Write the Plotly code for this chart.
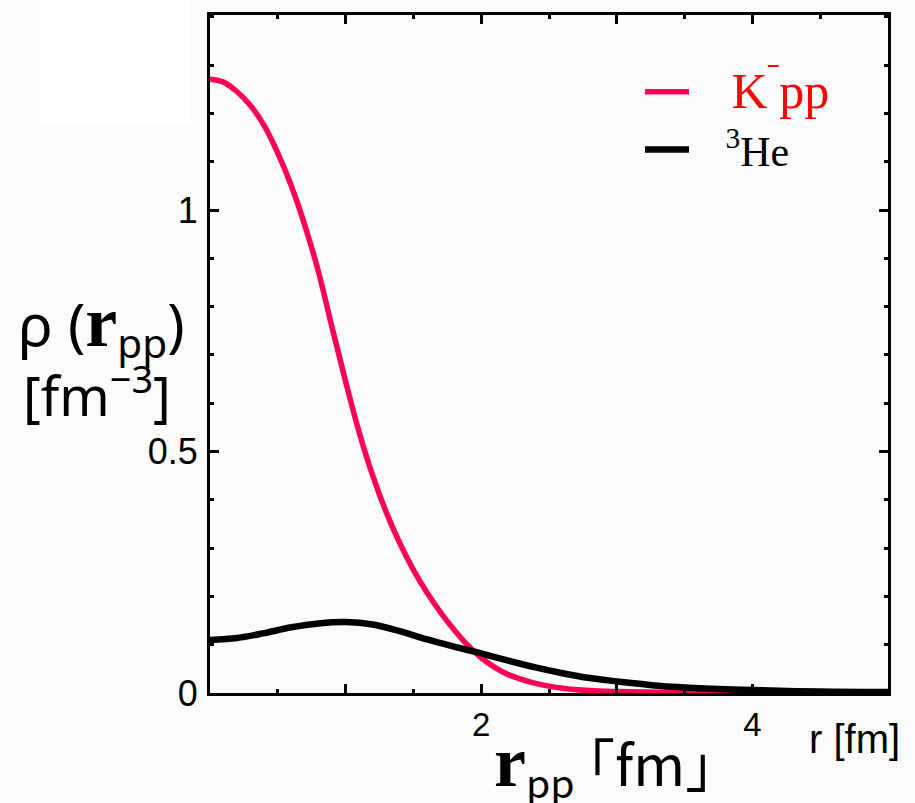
import plotly.graph_objects as go

# ---- data ----
r_kpp = [0.0, 0.1, 0.2, 0.3, 0.4, 0.5, 0.6, 0.7, 0.8, 0.9, 1.0, 1.1, 1.2, 1.3, 1.4,
         1.5, 1.6, 1.7, 1.8, 1.9, 2.0, 2.1, 2.2, 2.4, 2.6, 2.8, 3.0, 3.4, 4.0, 5.0]
rho_kpp = [1.271, 1.265, 1.245, 1.216, 1.175, 1.118, 1.050, 0.968, 0.872, 0.757,
           0.645, 0.540, 0.450, 0.374, 0.310, 0.255, 0.208, 0.167, 0.131, 0.099,
           0.073, 0.053, 0.038, 0.020, 0.010, 0.005, 0.003, 0.001, 0.0, 0.0]

r_he = [0.0, 0.2, 0.4, 0.6, 0.8, 1.0, 1.2, 1.4, 1.6, 1.8, 2.0, 2.2, 2.4, 2.6, 2.8,
        3.0, 3.2, 3.4, 3.7, 4.0, 4.5, 5.0]
rho_he = [0.110, 0.114, 0.124, 0.136, 0.144, 0.147, 0.142, 0.128, 0.111, 0.096,
          0.082, 0.067, 0.053, 0.041, 0.031, 0.024, 0.018, 0.013, 0.009, 0.006,
          0.003, 0.002]

x_tickvals = [0, 1, 2, 3, 4, 5]
x_ticktext = ["", "", "2", "", "4", ""]
y_tickvals = [0, 0.5, 1]
y_ticktext = ["0", "0.5", "1"]

NB = "\u00a0"
W, H = 915, 803
L, R, T, B = 210, 27, 15, 110
PW, PH = W - L - R, H - T - B

fig = go.Figure()
fig.add_trace(go.Scatter(
    x=r_kpp, y=rho_kpp, mode="lines",
    line=dict(color="#ff0055", width=5.5, shape="spline", smoothing=1.0),
    name="<span style='color:#ff0000;font-size:50px'>" + NB * 3 + "K<sup>ˉ</sup>pp</span>",
    legendgroup="a"))
fig.add_trace(go.Scatter(
    x=r_he, y=rho_he, mode="lines",
    line=dict(color="#000000", width=6.5, shape="spline", smoothing=1.0),
    name=NB * 3 + "<sup>3</sup>He", legendgroup="b"))

axis_common = dict(showline=True, linecolor="black", linewidth=3, mirror="allticks",
                   ticks="inside", tickcolor="black", tickwidth=2.5, showgrid=False,
                   zeroline=False)

fig.update_xaxes(range=[0, 5], tickmode="array", tickvals=x_tickvals, ticktext=x_ticktext,
                 ticklen=9, ticklabelstandoff=0,
                 minor=dict(dtick=0.5, ticks="inside", ticklen=4, tickcolor="black", tickwidth=2.5),
                 tickfont=dict(family="Liberation Sans", size=33, color="black"),
                 **axis_common)
fig.update_yaxes(range=[0, 1.404], tickmode="array", tickvals=y_tickvals, ticktext=y_ticktext,
                 ticklen=9, ticklabelstandoff=2,
                 minor=dict(dtick=0.1, ticks="inside", ticklen=4, tickcolor="black", tickwidth=2.5),
                 tickfont=dict(family="Liberation Sans", size=36, color="black"),
                 **axis_common)

# x-axis title
fig.add_annotation(xref="paper", yref="paper", x=(603 - L) / PW, y=0, yshift=-72,
                   showarrow=False, xanchor="center", yanchor="middle",
                   text="<span style='font-family:Liberation Serif;font-size:72px'><b>r</b></span>"
                        "<sub>pp</sub>" + NB + "｢fm｣",
                   font=dict(family="Noto Sans CJK JP", size=56, color="black"))
# unit label at the axis end
fig.add_annotation(xref="paper", yref="paper", x=1, xshift=-34, y=0, yshift=-46,
                   showarrow=False, xanchor="center", yanchor="middle",
                   text="r [fm]", font=dict(family="Liberation Sans", size=40, color="black"))
# y-axis title (two lines)
fig.add_annotation(xref="paper", yref="paper", x=(101 - L) / PW, y=(693 - 326) / PH,
                   showarrow=False, xanchor="center", yanchor="middle",
                   text="ρ" + NB + "(<span style='font-family:Liberation Serif;font-size:72px'><b>r</b></span>"
                        "<sub>pp</sub>)",
                   font=dict(family="Noto Sans", size=58, color="black"))
fig.add_annotation(xref="paper", yref="paper", x=(97 - L) / PW, y=(693 - 392) / PH,
                   showarrow=False, xanchor="center", yanchor="middle",
                   text="[fm<sup>−3</sup>]",
                   font=dict(family="Noto Sans", size=54, color="black"))

fig.add_shape(type="rect", xref="paper", yref="paper", layer="below",
              x0=(40 - L) / PW, x1=(190 - L) / PW, y0=(693 - 125) / PH, y1=(693) / PH + 0.03,
              line=dict(width=0), fillcolor="white")

fig.update_layout(
    width=W, height=H, margin=dict(l=L, r=R, t=T, b=B),
    paper_bgcolor="#fbfbfb", plot_bgcolor="#fbfbfb",
    showlegend=True,
    legend=dict(x=(640 - L) / PW, y=(693 - 58) / PH, xanchor="left", yanchor="top",
                bgcolor="rgba(0,0,0,0)", font=dict(family="Liberation Serif", size=42, color="black"),
                tracegroupgap=6, itemwidth=44, traceorder="normal"),
)

fig.write_html("out.html", config={"displayModeBar": False},
               post_script="document.body.style.margin='0';document.body.style.overflow='hidden';")
